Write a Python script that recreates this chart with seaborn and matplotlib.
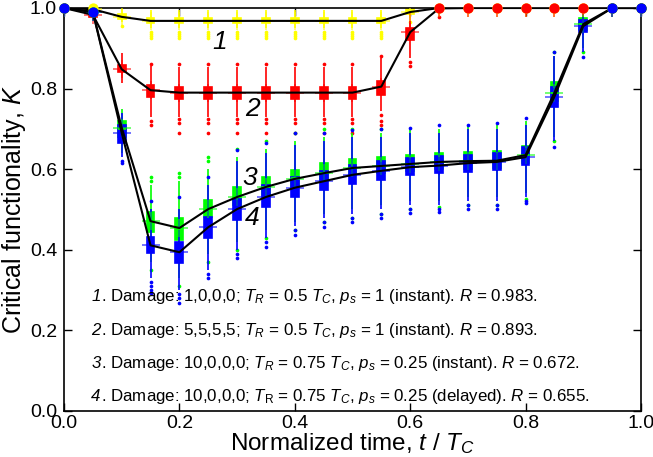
import numpy as np
import pandas as pd
import matplotlib
matplotlib.use("Agg")
import matplotlib.pyplot as plt
import seaborn as sns

# ---------------- data ----------------
T = [0.0, 0.05, 0.10, 0.15, 0.20, 0.25, 0.30, 0.35, 0.40, 0.45, 0.50,
     0.55, 0.60, 0.65, 0.70, 0.75, 0.80, 0.85, 0.90, 0.95, 1.0]

series_names = ["1", "2", "3", "4"]
series_colors = ["#ffff00", "#ff0000", "#00ff00", "#0000ff"]

# series 1 (yellow)
mean1 = [1.0, 0.997, 0.978, 0.968, 0.968, 0.968, 0.968, 0.968, 0.968, 0.968, 0.968,
         0.968, 0.990, 1.0, 1.0, 1.0, 1.0, 1.0, 1.0, 1.0, 1.0]
wlo1 = [1.0, 0.990, 0.965, 0.950, 0.950, 0.950, 0.950, 0.950, 0.950, 0.950, 0.950,
        0.950, 0.975, 1.0, 1.0, 1.0, 1.0, 1.0, 1.0, 1.0, 1.0]
q1_1 = [1.0, 0.997, 0.972, 0.962, 0.962, 0.962, 0.962, 0.962, 0.962, 0.962, 0.962,
        0.962, 0.985, 1.0, 1.0, 1.0, 1.0, 1.0, 1.0, 1.0, 1.0]
med1 = [1.0, 1.0, 0.978, 0.968, 0.968, 0.968, 0.968, 0.968, 0.968, 0.968, 0.968,
        0.968, 0.990, 1.0, 1.0, 1.0, 1.0, 1.0, 1.0, 1.0, 1.0]
q3_1 = [1.0, 1.0, 0.985, 0.975, 0.975, 0.975, 0.975, 0.975, 0.975, 0.975, 0.975,
        0.975, 0.997, 1.0, 1.0, 1.0, 1.0, 1.0, 1.0, 1.0, 1.0]
whi1 = [1.0, 1.0, 1.0, 0.995, 0.995, 0.995, 0.995, 0.995, 0.995, 0.995, 0.995,
        0.995, 1.0, 1.0, 1.0, 1.0, 1.0, 1.0, 1.0, 1.0, 1.0]
fl1 = [[], [], [0.955], [0.94, 0.935, 0.93, 0.925], [0.94, 0.935, 0.93, 0.925],
       [0.94, 0.935, 0.93, 0.925], [0.94, 0.935, 0.93, 0.925], [0.94, 0.935, 0.93, 0.925],
       [0.94, 0.935, 0.93, 0.925], [0.94, 0.935, 0.93, 0.925], [0.94, 0.935, 0.93, 0.925],
       [0.94, 0.935, 0.93, 0.925], [0.965], [], [], [], [], [], [], [], []]

# series 2 (red)
mean2 = [1.0, 0.983, 0.848, 0.796, 0.790, 0.790, 0.790, 0.790, 0.790, 0.790, 0.790,
         0.805, 0.940, 0.999, 1.0, 1.0, 1.0, 1.0, 1.0, 1.0, 1.0]
wlo2 = [1.0, 0.970, 0.815, 0.730, 0.730, 0.730, 0.730, 0.730, 0.730, 0.730, 0.730,
        0.745, 0.875, 0.985, 1.0, 1.0, 1.0, 1.0, 1.0, 1.0, 1.0]
q1_2 = [1.0, 0.978, 0.840, 0.780, 0.775, 0.775, 0.775, 0.775, 0.775, 0.775, 0.775,
        0.785, 0.920, 1.0, 1.0, 1.0, 1.0, 1.0, 1.0, 1.0, 1.0]
med2 = [1.0, 0.985, 0.848, 0.795, 0.790, 0.790, 0.790, 0.790, 0.790, 0.790, 0.790,
        0.800, 0.940, 1.0, 1.0, 1.0, 1.0, 1.0, 1.0, 1.0, 1.0]
q3_2 = [1.0, 0.990, 0.858, 0.810, 0.805, 0.805, 0.805, 0.805, 0.805, 0.805, 0.805,
        0.820, 0.950, 1.0, 1.0, 1.0, 1.0, 1.0, 1.0, 1.0, 1.0]
whi2 = [1.0, 1.0, 0.888, 0.855, 0.853, 0.853, 0.853, 0.853, 0.853, 0.853, 0.853,
        0.875, 0.990, 1.0, 1.0, 1.0, 1.0, 1.0, 1.0, 1.0, 1.0]
fl2 = [[], [], [], [0.72, 0.71, 0.86], [0.725, 0.715, 0.69, 0.86], [0.725, 0.715, 0.69, 0.86],
       [0.725, 0.715, 0.69, 0.86], [0.725, 0.715, 0.69, 0.86], [0.725, 0.715, 0.69, 0.86],
       [0.725, 0.715, 0.69, 0.86], [0.725, 0.715, 0.69, 0.86], [0.735, 0.72, 0.71, 0.88],
       [0.865, 0.855], [0.978], [], [], [], [], [], [], []]

# series 3 (green)
mean3 = [1.0, 0.990, 0.703, 0.471, 0.454, 0.501, 0.531, 0.556, 0.576, 0.590, 0.603,
         0.608, 0.613, 0.618, 0.620, 0.621, 0.635, 0.790, 0.960, 1.0, 1.0]
wlo3 = [1.0, 0.980, 0.640, 0.370, 0.330, 0.390, 0.420, 0.450, 0.470, 0.490, 0.500,
        0.510, 0.520, 0.520, 0.530, 0.530, 0.540, 0.680, 0.900, 1.0, 1.0]
q1_3 = [1.0, 0.985, 0.680, 0.444, 0.424, 0.481, 0.510, 0.535, 0.557, 0.571, 0.585,
        0.590, 0.595, 0.600, 0.600, 0.603, 0.615, 0.770, 0.945, 1.0, 1.0]
med3 = [1.0, 0.990, 0.700, 0.470, 0.452, 0.502, 0.531, 0.556, 0.577, 0.590, 0.603,
        0.608, 0.613, 0.618, 0.620, 0.621, 0.635, 0.790, 0.960, 1.0, 1.0]
q3_3 = [1.0, 0.995, 0.720, 0.494, 0.479, 0.524, 0.556, 0.581, 0.598, 0.616, 0.626,
        0.630, 0.636, 0.640, 0.642, 0.645, 0.657, 0.816, 0.975, 1.0, 1.0]
whi3 = [1.0, 1.0, 0.750, 0.560, 0.570, 0.600, 0.630, 0.650, 0.670, 0.680, 0.690,
        0.690, 0.700, 0.700, 0.710, 0.710, 0.720, 0.880, 0.990, 1.0, 1.0]
fl3 = [[], [], [], [0.58, 0.57, 0.35], [0.59, 0.58, 0.31], [0.63, 0.62, 0.37], [0.65, 0.40],
       [0.67, 0.43], [0.69, 0.45], [0.70, 0.47], [0.70, 0.48], [0.70, 0.49], [0.50],
       [0.505], [0.51], [0.51], [0.525], [0.67, 0.89], [0.89], [], []]

# series 4 (blue)
mean4 = [1.0, 0.990, 0.690, 0.411, 0.394, 0.456, 0.501, 0.531, 0.554, 0.570, 0.586,
         0.596, 0.605, 0.609, 0.615, 0.618, 0.630, 0.780, 0.955, 1.0, 1.0]
wlo4 = [1.0, 0.975, 0.630, 0.330, 0.300, 0.350, 0.400, 0.430, 0.460, 0.480, 0.490,
        0.500, 0.510, 0.510, 0.520, 0.520, 0.530, 0.670, 0.890, 1.0, 1.0]
q1_4 = [1.0, 0.985, 0.665, 0.392, 0.367, 0.429, 0.474, 0.506, 0.531, 0.549, 0.564,
        0.573, 0.586, 0.590, 0.593, 0.598, 0.610, 0.754, 0.940, 1.0, 1.0]
med4 = [1.0, 0.990, 0.690, 0.410, 0.392, 0.455, 0.500, 0.531, 0.554, 0.570, 0.586,
        0.596, 0.605, 0.609, 0.615, 0.618, 0.630, 0.780, 0.955, 1.0, 1.0]
q3_4 = [1.0, 0.995, 0.710, 0.432, 0.419, 0.481, 0.526, 0.561, 0.581, 0.596, 0.611,
        0.620, 0.628, 0.632, 0.635, 0.640, 0.655, 0.804, 0.970, 1.0, 1.0]
whi4 = [1.0, 1.0, 0.740, 0.500, 0.500, 0.560, 0.620, 0.640, 0.660, 0.670, 0.680,
        0.680, 0.690, 0.690, 0.700, 0.700, 0.710, 0.880, 0.990, 1.0, 1.0]
fl4 = [[], [], [0.62, 0.615], [0.32, 0.31, 0.30, 0.293, 0.52], [0.29, 0.28, 0.268, 0.53],
       [0.34, 0.33, 0.58], [0.39, 0.38, 0.648], [0.42, 0.407, 0.666], [0.45, 0.436, 0.69],
       [0.47, 0.456, 0.69], [0.48, 0.469, 0.697], [0.49, 0.48, 0.70], [0.50, 0.491, 0.702],
       [0.50, 0.494, 0.71], [0.51, 0.50, 0.71], [0.51, 0.50, 0.714], [0.52, 0.516, 0.727],
       [0.655, 0.89], [0.878], [], []]

legend_nums = ["1", "2", "3", "4"]
legend_lines = [
    r". Damage: 1,0,0,0; $T_R$ = 0.5 $T_C$, $p_s$ = 1 (instant). $R$ = 0.983.",
    r". Damage: 5,5,5,5; $T_R$ = 0.5 $T_C$, $p_s$ = 1 (instant). $R$ = 0.893.",
    r". Damage: 10,0,0,0; $T_R$ = 0.75 $T_C$, $p_s$ = 0.25 (instant). $R$ = 0.672.",
    r". Damage: 10,0,0,0; $T_\mathrm{R}$ = 0.75 $T_C$, $p_s$ = 0.25 (delayed). $R$ = 0.655.",
]
curve_labels = ["1", "2", "3", "4"]
curve_label_pos = [(0.27, 0.915), (0.326, 0.75), (0.322, 0.578), (0.326, 0.48)]

# ---------------- styling ----------------
sns.set_theme(style="ticks")
plt.rcParams["font.family"] = ["Liberation Sans", "DejaVu Sans"]
plt.rcParams["mathtext.fontset"] = "custom"
plt.rcParams["mathtext.rm"] = "Liberation Sans"
plt.rcParams["mathtext.it"] = "Liberation Sans:italic"
plt.rcParams["mathtext.bf"] = "Liberation Sans:bold"
plt.rcParams["text.color"] = "black"
plt.rcParams["axes.labelcolor"] = "black"

fig = plt.figure(figsize=(6.53, 4.57), dpi=100)
ax = fig.add_axes([0.098, 0.1007, 0.8836, 0.8818])

stats = [
    (mean1, wlo1, q1_1, med1, q3_1, whi1, fl1),
    (mean2, wlo2, q1_2, med2, q3_2, whi2, fl2),
    (mean3, wlo3, q1_3, med3, q3_3, whi3, fl3),
    (mean4, wlo4, q1_4, med4, q3_4, whi4, fl4),
]

for name, col, (mn, lo, a, m, b, hi, fl) in zip(series_names, series_colors, stats):
    rows = []
    for i, t in enumerate(T):
        for v in (lo[i], a[i], m[i], b[i], hi[i]):
            rows.append((t, v))
    df = pd.DataFrame(rows, columns=["t", "K"])
    sns.boxplot(data=df, x="t", y="K", native_scale=True, color=col, linecolor=col,
                saturation=1, width=0.27, whis=(0, 100), showfliers=False,
                linewidth=1.2, showcaps=False, ax=ax, zorder=2)
    fx = [T[i] for i in range(len(T)) for _ in fl[i]]
    fy = [v for i in range(len(T)) for v in fl[i]]
    if fx:
        sns.scatterplot(x=fx, y=fy, color=col, s=7, linewidth=0, marker="o", ax=ax,
                        zorder=2)
    sns.scatterplot(x=T, y=mn, color=col, marker="+", s=170, linewidth=1.4, alpha=0.55,
                    ax=ax, zorder=3)

for name, col, (mn, lo, a, m, b, hi, fl) in zip(series_names, series_colors, stats):
    sns.lineplot(x=T, y=mn, color="black", linewidth=1.5, ax=ax, zorder=5)

for name, col, (mn, lo, a, m, b, hi, fl) in zip(series_names, series_colors, stats):
    dx = [T[i] for i in range(len(T)) if b[i] - a[i] < 0.011]
    dy = [m[i] for i in range(len(T)) if b[i] - a[i] < 0.011]
    sns.scatterplot(x=dx, y=dy, color=col, s=55, linewidth=0, marker="o", ax=ax,
                    zorder=6)
    ax.collections[-1].set_clip_on(False)

for lab, (x, y) in zip(curve_labels, curve_label_pos):
    ax.text(x, y, lab, fontsize=19, style="italic", ha="center", va="center",
            color="black", zorder=7)

leg_fs = 12.2
for k, (num, line) in enumerate(zip(legend_nums, legend_lines)):
    yk = 0.283 - 0.0827 * k
    ax.text(0.047, yk, num, fontsize=leg_fs, style="italic", ha="left", va="center",
            color="black", zorder=7)
    ax.annotate(line, xy=(0.047, yk), xytext=(0.556 * leg_fs, 0),
                textcoords="offset points", fontsize=leg_fs, ha="left", va="center",
                color="black", zorder=7)

ax.set_xlim(0, 1)
ax.set_ylim(0, 1)
ax.set_xticks([0.0, 0.2, 0.4, 0.6, 0.8, 1.0])
ax.set_yticks([0.0, 0.2, 0.4, 0.6, 0.8, 1.0])
ax.set_xticklabels(["0.0", "0.2", "0.4", "0.6", "0.8", "1.0"])
ax.set_yticklabels(["0.0", "0.2", "0.4", "0.6", "0.8", "1.0"])
ax.tick_params(direction="in", top=True, right=True, length=6, width=1, labelsize=14,
               colors="black")
ax.tick_params(axis="x", pad=3)
ax.tick_params(axis="y", pad=5)
for s in ax.spines.values():
    s.set_linewidth(1.2)
    s.set_color("black")
    s.set_visible(True)
ax.set_xlabel(r"Normalized time, $t$ / $T_C$", fontsize=17.5, labelpad=-1)
ax.set_ylabel(r"Critical functionality, $K$", fontsize=18, labelpad=1)

fig.savefig("out.png", dpi=100)
